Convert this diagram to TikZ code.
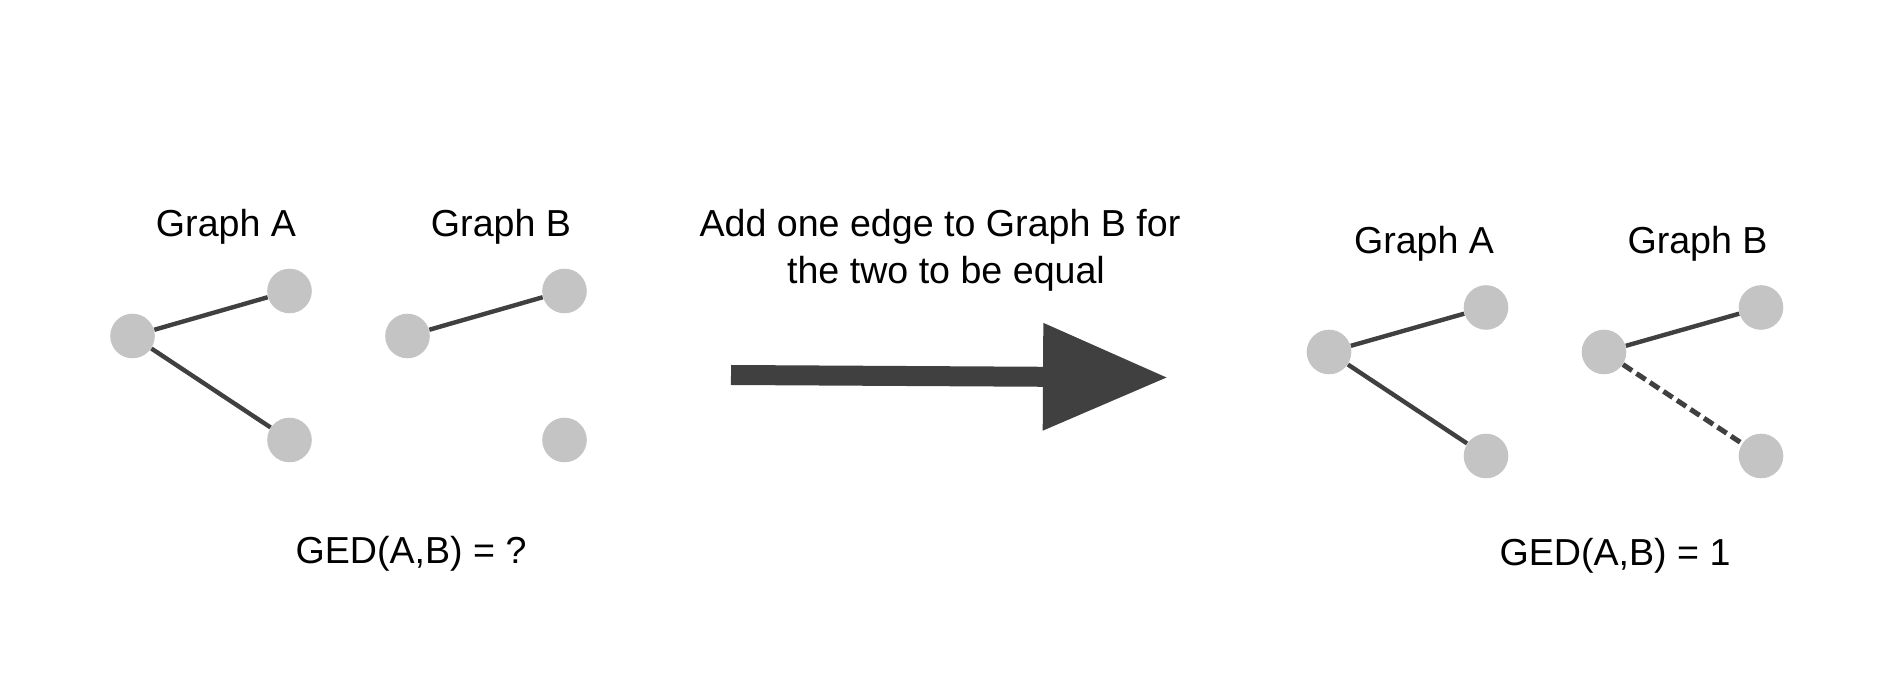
\documentclass[tikz,border=0pt]{standalone}
\usepackage{fontspec}
\setmainfont{Liberation Sans}
\usepackage{tikz}
\usetikzlibrary{arrows, arrows.meta}

\definecolor{nodegrey}{HTML}{C4C4C4}
\definecolor{edgegrey}{HTML}{404040}

\tikzset{
	vert/.style={circle,fill=nodegrey,inner sep=0pt,minimum size=22.3pt},
	edge/.style={draw=edgegrey,line width=2.2pt},
	newedge/.style={edge,line width=2.5pt,dash pattern=on 5.5pt off 2.6pt},
	lbl/.style={anchor=base,inner sep=0pt,font=\fontsize{18.8}{22}\selectfont}
}

\begin{document}
\begin{tikzpicture}[x=0.5pt,y=-0.5pt]
	\useasboundingbox (0,0) rectangle (1891,694);
	
	%labels before
	\node[lbl] (lblGA) at (226,236.7) {Graph A};
	\node[lbl] (lblGB) at (501,236.7) {Graph B};
	\node[lbl] (gedL) at (411,563.3) {GED(A,B) = ?};
	%
	\node[lbl] (stepA) at (940,236.7) {Add one edge to Graph B for};
	\node[lbl] (stepB) at (946,283.5) {the two to be equal};
	%
	%labels after
	\node[lbl] (lblGAr) at (1424,253.3) {Graph A};
	\node[lbl] (lblGBr) at (1697.5,253.3) {Graph B};
	\node[lbl] (gedR) at (1615,566) {GED(A,B) = 1};
	
	%vertices before
	\node[vert] (a1) at (132.5,336) {};
	\node[vert] (a2) at (289.5,291) {};
	\node[vert] (a3) at (289.5,440) {};
	\node[vert] (b1) at (407.5,336) {};
	\node[vert] (b2) at (564.5,291) {};
	\node[vert] (b3) at (564.5,440) {};
	
	%vertices after
	\node[vert] (ra1) at (1329,352) {};
	\node[vert] (ra2) at (1486,307.5) {};
	\node[vert] (ra3) at (1486,456) {};
	\node[vert] (rb1) at (1604,352) {};
	\node[vert] (rb2) at (1761,307.5) {};
	\node[vert] (rb3) at (1761,456) {};
	
	%edges
	\draw[edge] (a1)--(a2);
	\draw[edge] (a1)--(a3);
	\draw[edge] (b1)--(b2);
	%
	\draw[edge] (ra1)--(ra2);
	\draw[edge] (ra1)--(ra3);
	\draw[edge] (rb1)--(rb2);
	\draw[newedge] (rb1)--(rb3);
	
	%big arrow
	\coordinate (arrS) at (731,375);
	\coordinate (arrE) at (1168,377.5);
	\draw[-{Triangle[length=62.5pt 0 0,width=51pt 0 0]},draw=edgegrey,fill=edgegrey,line width=10pt] (arrS)--(arrE);
\end{tikzpicture}
\end{document}
